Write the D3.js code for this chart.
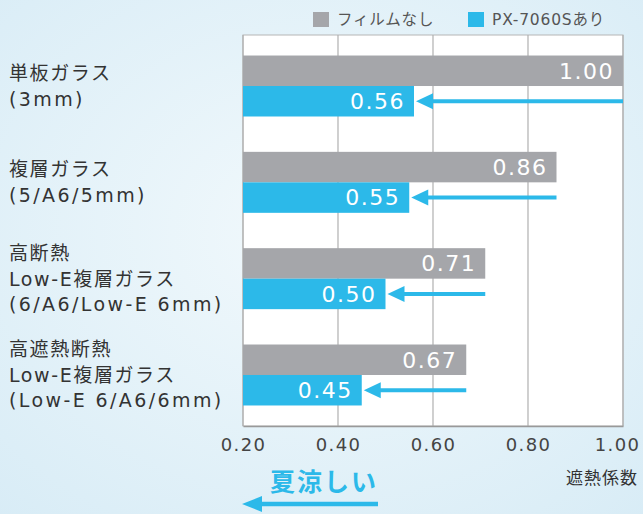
<!DOCTYPE html>
<html>
<head>
<meta charset="utf-8">
<script src="https://cdn.jsdelivr.net/npm/d3@7"></script>
<style>
  html, body { margin: 0; padding: 0; }
  body { width: 643px; height: 514px; overflow: hidden; }
  svg text { font-family: "DejaVu Sans", "Noto Sans CJK JP", sans-serif; }
</style>
</head>
<body>
<div id="chart"></div>
<script>
'use strict';

var categories = [
    ["単板ガラス", "(3mm)"],
    ["複層ガラス", "(5/A6/5mm)"],
    ["高断熱", "Low-E複層ガラス", "(6/A6/Low-E 6mm)"],
    ["高遮熱断熱", "Low-E複層ガラス", "(Low-E 6/A6/6mm)"]
];
var seriesNames = ["フィルムなし", "PX-7060Sあり"];
var filmNone = [1.00, 0.86, 0.71, 0.67];
var filmPX = [0.56, 0.55, 0.50, 0.45];
var tickValues = [0.20, 0.40, 0.60, 0.80, 1.00];

var width = 643, height = 514;
var GRAY = "#a5a6aa", BLUE = "#2cb9e9";

var svg = d3.select("#chart").append("svg")
    .attr("width", width)
    .attr("height", height);

// background
var defs = svg.append("defs");
var grad = defs.append("radialGradient").attr("id", "bg")
    .attr("cx", "50%").attr("cy", "45%").attr("r", "75%");
grad.append("stop").attr("offset", "0%").attr("stop-color", "#f2f9fc");
grad.append("stop").attr("offset", "100%").attr("stop-color", "#d8ecf6");
svg.append("rect").attr("width", width).attr("height", height).attr("fill", "url(#bg)");

var plot = { left: 243, right: 623, top: 35, bottom: 426 };

var x = d3.scaleLinear().domain([0.20, 1.00]).range([plot.left, plot.right]);
var y = d3.scaleBand().domain(d3.range(categories.length))
    .range([plot.top, plot.bottom])
    .paddingInner(0.367)
    .paddingOuter(0.213);
var barH = y.bandwidth() / 2;

// plot area
svg.append("rect")
    .attr("x", plot.left).attr("y", plot.top)
    .attr("width", plot.right - plot.left)
    .attr("height", plot.bottom - plot.top)
    .attr("fill", "#ffffff")
    .attr("stroke", "#b5b5b5");

// grid lines
svg.append("g").selectAll("line")
    .data(tickValues)
    .enter().append("line")
    .attr("x1", function (d) { return x(d); })
    .attr("x2", function (d) { return x(d); })
    .attr("y1", plot.top)
    .attr("y2", plot.bottom)
    .attr("stroke", "#b0b0b0")
    .attr("stroke-width", 1.2);

// x axis labels
var xAxis = d3.axisBottom(x).tickValues(tickValues).tickSize(0).tickPadding(12)
    .tickFormat(d3.format(".2f"));
var axisG = svg.append("g")
    .attr("transform", "translate(0," + plot.bottom + ")")
    .call(xAxis);
axisG.select(".domain").attr("stroke", "#999").attr("stroke-width", 1.5);
axisG.selectAll("text")
    .attr("font-size", 18)
    .attr("fill", "#444")
    .style("letter-spacing", "1.3px")
    .style("font-family", "'DejaVu Sans', sans-serif");
axisG.selectAll(".tick").filter(function (d) { return d === 1.00; })
    .select("text").attr("dx", -6);

// bars
var groups = svg.append("g").selectAll("g")
    .data(categories)
    .enter().append("g")
    .attr("transform", function (d, i) { return "translate(0," + y(i) + ")"; });

groups.append("rect")
    .attr("x", x(0.20))
    .attr("y", 0)
    .attr("width", function (d, i) { return x(filmNone[i]) - x(0.20); })
    .attr("height", barH)
    .attr("fill", GRAY);

groups.append("rect")
    .attr("x", x(0.20))
    .attr("y", barH)
    .attr("width", function (d, i) { return x(filmPX[i]) - x(0.20); })
    .attr("height", barH)
    .attr("fill", BLUE);

groups.append("text")
    .attr("x", function (d, i) { return x(filmNone[i]) - 9; })
    .attr("y", barH / 2)
    .attr("dy", "0.36em")
    .attr("text-anchor", "end")
    .attr("fill", "#ffffff")
    .attr("font-size", 22)
    .style("letter-spacing", "1.5px")
    .text(function (d, i) { return d3.format(".2f")(filmNone[i]); });

groups.append("text")
    .attr("x", function (d, i) { return x(filmPX[i]) - 9; })
    .attr("y", barH * 1.5)
    .attr("dy", "0.36em")
    .attr("text-anchor", "end")
    .attr("fill", "#ffffff")
    .attr("font-size", 22)
    .style("letter-spacing", "1.5px")
    .text(function (d, i) { return d3.format(".2f")(filmPX[i]); });

// arrows from gray end to blue end
groups.append("line")
    .attr("x1", function (d, i) { return x(filmPX[i]) + 14; })
    .attr("x2", function (d, i) { return x(filmNone[i]); })
    .attr("y1", barH * 1.5)
    .attr("y2", barH * 1.5)
    .attr("stroke", BLUE)
    .attr("stroke-width", 4);

groups.append("path")
    .attr("d", function (d, i) {
        var tx = x(filmPX[i]) + 2, cy = barH * 1.5;
        return "M" + tx + "," + cy + "L" + (tx + 17) + "," + (cy - 8) + "L" + (tx + 17) + "," + (cy + 8) + "Z";
    })
    .attr("fill", BLUE);

// category labels
var lineH = 25.5;
groups.append("text")
    .attr("x", 9)
    .attr("font-size", 19)
    .attr("fill", "#333")
    .each(function (d) {
        var t = d3.select(this);
        var mid = y.bandwidth() / 2;
        var start = mid - (d.length - 1) * lineH / 2;
        d.forEach(function (line, k) {
            t.append("tspan")
                .attr("x", 9)
                .attr("y", start + k * lineH)
                .attr("dy", "0.36em")
                .style("letter-spacing", line.charAt(0) === "(" ? "2.4px" : "1.6px")
                .text(line);
        });
    });

// legend
var legend = svg.append("g");
var legendX = [313, 468];
var legendColors = [GRAY, BLUE];
seriesNames.forEach(function (name, i) {
    legend.append("rect")
        .attr("x", legendX[i]).attr("y", 12)
        .attr("width", 16).attr("height", 15)
        .attr("fill", legendColors[i]);
    legend.append("text")
        .attr("x", legendX[i] + 24).attr("y", 19.5)
        .attr("dy", "0.36em")
        .attr("font-size", 15.5)
        .attr("fill", "#555")
        .style("letter-spacing", "0.8px")
        .text(name);
});

// axis title
svg.append("text")
    .attr("x", 638).attr("y", 478)
    .attr("dy", "0.36em")
    .attr("text-anchor", "end")
    .attr("font-size", 17)
    .attr("fill", "#333")
    .style("letter-spacing", "1px")
    .text("遮熱係数");

// 夏涼しい + arrow
svg.append("text")
    .attr("x", 270).attr("y", 482)
    .attr("dy", "0.36em")
    .attr("font-size", 25)
    .attr("font-weight", "bold")
    .attr("fill", BLUE)
    .style("letter-spacing", "2px")
    .text("夏涼しい");

svg.append("line")
    .attr("x1", 258).attr("x2", 378)
    .attr("y1", 504).attr("y2", 504)
    .attr("stroke", BLUE).attr("stroke-width", 4.5);
svg.append("path")
    .attr("d", "M242,504L262,496L262,512Z")
    .attr("fill", BLUE);
</script>
</body>
</html>
